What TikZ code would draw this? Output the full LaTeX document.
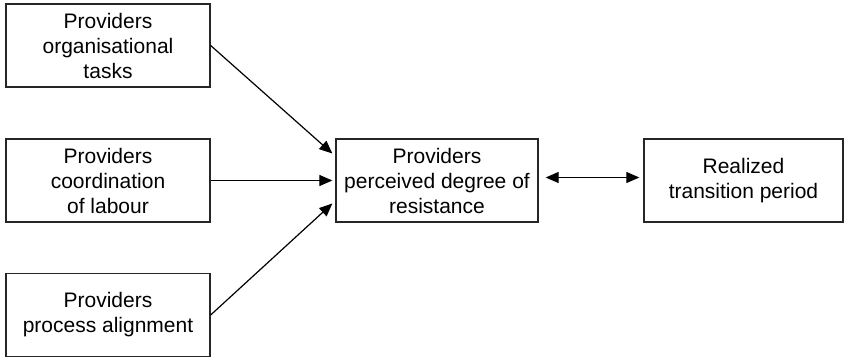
\documentclass[tikz,border=0pt]{standalone}
\usepackage{fontspec}
\setmainfont{Liberation Sans}
\usetikzlibrary{arrows.meta}
\begin{document}
\begin{tikzpicture}[x=1pt,y=-1pt,
  box/.style={draw=black!85, line width=1.3pt, rectangle, minimum width=204pt,
    minimum height=83pt, align=center, inner sep=0pt,
    font=\fontsize{21}{25}\selectfont},
  link/.style={line width=1.2pt, -{Triangle[length=13pt,width=11pt]}},
  dlink/.style={line width=1.2pt, {Triangle[length=13pt,width=11pt]}-{Triangle[length=13pt,width=11pt]}}]
\useasboundingbox (0,0) rectangle (845,358);
% input factors
\node[box] (tasks) at (108,45.5) {Providers\\organisational\\tasks};
\node[box] (labour) at (108,180.5) {Providers\\coordination\\of labour};
\node[box] (align) at (108,315) {Providers\\process alignment};
% central construct and outcome
\node[box, minimum width=202pt] (resist) at (437,180.5) {Providers\\perceived degree of\\resistance};
\node[box, minimum width=199pt] (period) at (743.5,180.5) {Realized\\transition period};
% connectors (shifts are in page units: positive yshift is upwards)
\coordinate (inA) at ([xshift=-3pt,yshift=27pt]resist.west);
\coordinate (inB) at ([xshift=-3pt]resist.west);
\coordinate (inC) at ([xshift=-3pt,yshift=-23pt]resist.west);
\draw[link] (tasks.east) -- (inA);
\draw[link] (labour.east) -- (inB);
\draw[link] (align.east) -- (inC);
\coordinate (dl) at ([xshift=7pt,yshift=3pt]resist.east);
\coordinate (dr) at ([xshift=-4pt,yshift=3pt]period.west);
\draw[dlink] (dl) -- (dr);
\end{tikzpicture}
\end{document}
